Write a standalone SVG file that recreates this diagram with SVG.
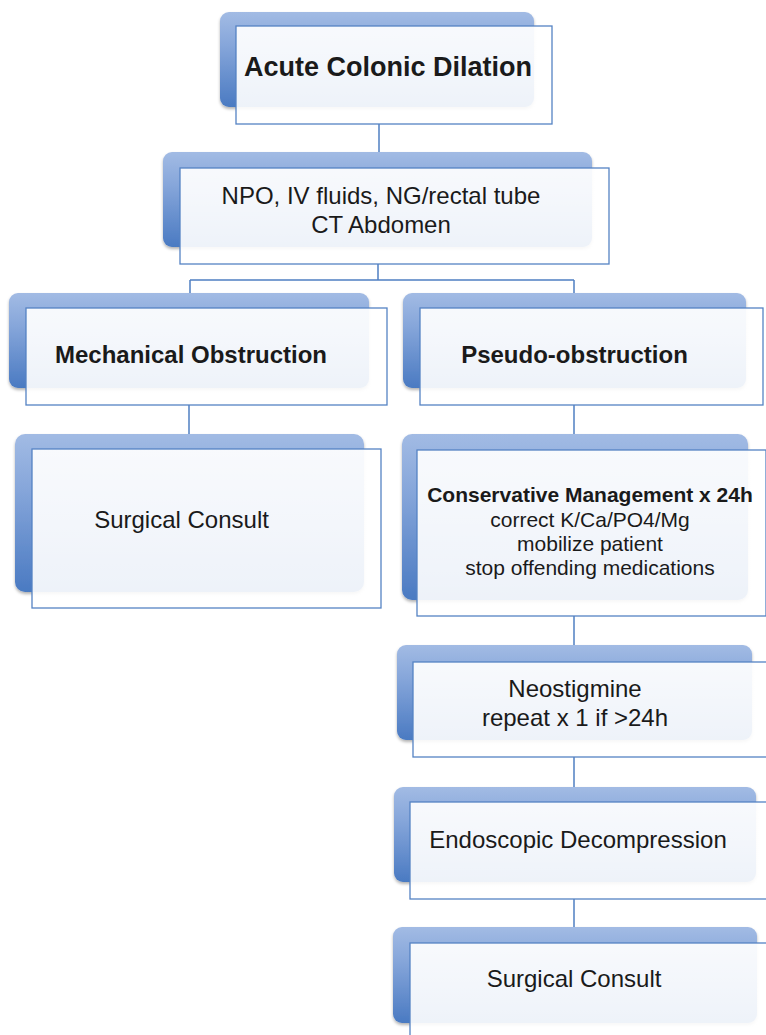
<svg xmlns="http://www.w3.org/2000/svg" width="766" height="1035" viewBox="0 0 766 1035">
<defs>
<linearGradient id="bk" x1="0" y1="0" x2="0" y2="1">
<stop offset="0" stop-color="#a2bbe4"/>
<stop offset="0.35" stop-color="#86a6da"/>
<stop offset="1" stop-color="#4a7ac2"/>
</linearGradient>
<linearGradient id="fr" x1="0" y1="0" x2="0" y2="1">
<stop offset="0" stop-color="#ffffff" stop-opacity="0.93"/>
<stop offset="1" stop-color="#ffffff" stop-opacity="0.9"/>
</linearGradient>
<filter id="sh" x="-5%" y="-5%" width="110%" height="115%">
<feDropShadow dx="0" dy="2" stdDeviation="1.5" flood-color="#000" flood-opacity="0.3"/>
</filter>
</defs>
<style>
.back{fill:url(#bk);filter:url(#sh)}
.front{fill:url(#fr);stroke:#5583c4;stroke-width:1.3}
.conn{fill:none;stroke:#4f7fc2;stroke-width:1.5}
text{font-family:"Liberation Sans",Arial,sans-serif;fill:#1a1a1a;text-anchor:middle}
.b{font-weight:bold}
.t24{font-size:24px}
.t21{font-size:21px}
</style>
<rect width="766" height="1035" fill="#ffffff"/>
<g id="connectors">
<path class="conn" d="M379 124V152"/>
<path class="conn" d="M378 264V280M190 280H574M190 280V293M574 280V293"/>
<path class="conn" d="M189 405V434"/>
<path class="conn" d="M574 405V434"/>
<path class="conn" d="M574 616V645"/>
<path class="conn" d="M574 757V787"/>
<path class="conn" d="M574 899V927"/>
</g>
<g id="n1">
<rect class="back" x="220" y="12" width="314" height="95" rx="9"/>
<rect class="front" x="236" y="26" width="316" height="98"/>
<text class="b" x="388" y="76" font-size="27">Acute Colonic Dilation</text>
</g>
<g id="n2">
<rect class="back" x="163" y="152" width="429" height="95" rx="9"/>
<rect class="front" x="180" y="168" width="429" height="96"/>
<text class="t24" x="381" y="204">NPO, IV fluids, NG/rectal tube</text>
<text class="t24" x="381" y="233">CT Abdomen</text>
</g>
<g id="n3">
<rect class="back" x="9" y="293" width="360" height="95" rx="9"/>
<rect class="front" x="26" y="308" width="361" height="97"/>
<text class="b t24" x="191" y="363">Mechanical Obstruction</text>
</g>
<g id="n4">
<rect class="back" x="15" y="434" width="349" height="158" rx="10"/>
<rect class="front" x="32" y="449" width="349" height="159"/>
<text class="t24" x="181.5" y="528">Surgical Consult</text>
</g>
<g id="n5">
<rect class="back" x="403" y="293" width="343" height="95" rx="9"/>
<rect class="front" x="420" y="308" width="343" height="97"/>
<text class="b t24" x="574.5" y="363">Pseudo-obstruction</text>
</g>
<g id="n6">
<rect class="back" x="402" y="434" width="346" height="166" rx="10"/>
<rect class="front" x="417" y="450" width="349" height="166"/>
<text class="b t21" x="590" y="502">Conservative Management x 24h</text>
<text class="t21" x="590" y="527">correct K/Ca/PO4/Mg</text>
<text class="t21" x="590" y="551">mobilize patient</text>
<text class="t21" x="590" y="575">stop offending medications</text>
</g>
<g id="n7">
<rect class="back" x="397" y="645" width="355" height="95" rx="9"/>
<rect class="front" x="413" y="662" width="360" height="95"/>
<text class="t24" x="575" y="697">Neostigmine</text>
<text class="t24" x="575" y="726">repeat x 1 if &gt;24h</text>
</g>
<g id="n8">
<rect class="back" x="394" y="787" width="362" height="95" rx="9"/>
<rect class="front" x="410" y="802" width="362" height="97"/>
<text class="t24" x="578" y="848">Endoscopic Decompression</text>
</g>
<g id="n9">
<rect class="back" x="393" y="927" width="364" height="96" rx="9"/>
<rect class="front" x="410" y="943" width="362" height="100"/>
<text class="t24" x="574" y="987">Surgical Consult</text>
</g>
</svg>
